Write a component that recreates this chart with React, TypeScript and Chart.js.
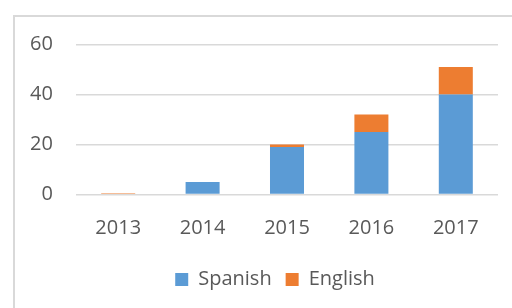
import React, { useEffect, useRef } from "react";
import { Chart, registerables } from "chart.js";

Chart.register(...registerables);

const years = ["2013", "2014", "2015", "2016", "2017"];
const spanish = [0, 5, 19, 25, 40];
const english = [0.5, 0, 1, 7, 11];
const yTicks = [0, 20, 40, 60];

const FONT = "'Open Sans', sans-serif";
const TEXT = "#595959";

export default function App() {
  const ref = useRef<HTMLCanvasElement | null>(null);
  useEffect(() => {
    if (!ref.current) return;
    const chart = new Chart(ref.current, {
      type: "bar",
      data: {
        labels: years,
        datasets: [
          { label: "Spanish", data: spanish, backgroundColor: "#5b9bd5", borderWidth: 0 },
          { label: "English", data: english, backgroundColor: "#ed7d31", borderWidth: 0 },
        ],
      },
      options: {
        animation: false,
        responsive: false,
        maintainAspectRatio: false,
        datasets: { bar: { categoryPercentage: 1, barPercentage: 0.403 } },
        layout: { padding: { left: 52, right: 14, top: 44.5, bottom: 8.5 } },
        plugins: {
          tooltip: { enabled: false },
          legend: {
            position: "bottom",
            labels: {
              boxWidth: 13,
              boxHeight: 13,
              padding: 14,
              color: TEXT,
              font: { family: FONT, size: 20 },
            },
          },
        },
        scales: {
          x: {
            stacked: true,
            grid: { display: false, drawTicks: false },
            border: { display: false },
            afterFit: (s: any) => {
              s.height = 61;
            },
            ticks: { color: TEXT, font: { family: FONT, size: 20 }, padding: 21.5 },
          },
          y: {
            stacked: true,
            min: 0,
            max: 60,
            afterBuildTicks: (s: any) => {
              s.ticks = yTicks.map((v) => ({ value: v }));
            },
            afterFit: (s: any) => {
              s.width = 24;
            },
            grid: { color: "#d9d9d9", lineWidth: 1.5, drawTicks: false },
            border: { display: false },
            ticks: {
              color: TEXT,
              font: { family: FONT, size: 20 },
              mirror: true,
              crossAlign: "far",
              padding: -46,
            },
          },
        },
      },
    });
    return () => chart.destroy();
  }, []);

  return (
    <div style={{ position: "absolute", left: 0, top: 0, width: 512, height: 308, overflow: "hidden", background: "#fff" }}>
      <div
        style={{
          position: "absolute",
          left: 13,
          top: 15,
          width: 600,
          height: 400,
          borderLeft: "2px solid #d9d9d9",
          borderTop: "2px solid #d9d9d9",
        }}
      />
      <canvas ref={ref} width={512} height={308} style={{ position: "absolute", left: 0, top: 0 }} />
    </div>
  );
}
